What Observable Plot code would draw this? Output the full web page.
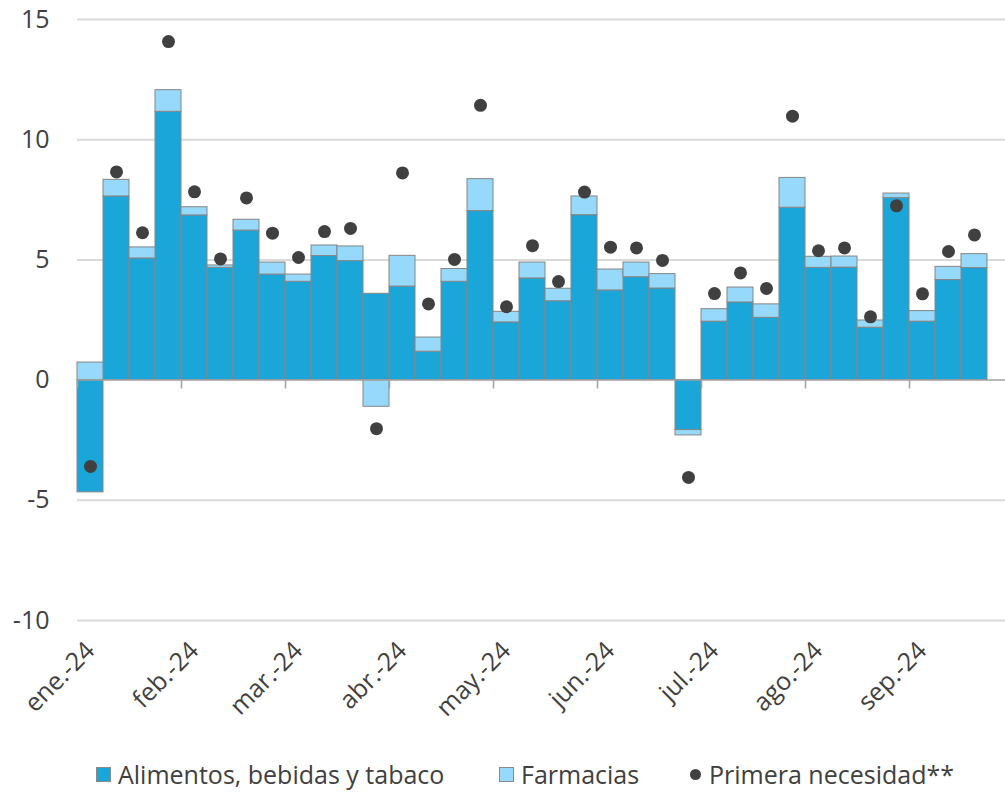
<!DOCTYPE html>
<html><head><meta charset="utf-8">
<script src="https://cdn.jsdelivr.net/npm/d3@7"></script>
<script src="https://cdn.jsdelivr.net/npm/@observablehq/plot@0.6"></script>
<style>
body{margin:0;background:#fff;font-family:"Open Sans",sans-serif;}
#wrap{position:relative;width:1005px;height:793px;}
#legend{position:absolute;left:0;top:755px;width:1005px;height:38px;font-size:25px;color:#404040;}
.item{position:absolute;top:0;height:38px;display:flex;align-items:center;white-space:nowrap;}
.sw{display:inline-block;width:13px;height:13px;border:1px solid #8a8a8a;margin-right:7px;}
.dot{display:inline-block;width:11px;height:11px;border-radius:50%;background:#404040;margin-right:8px;}
</style></head><body><div id="wrap"><div id="chart"></div><div id="legend"></div></div>
<script>
const monthLabels = ["ene.-24","feb.-24","mar.-24","abr.-24","may.-24","jun.-24","jul.-24","ago.-24","sep.-24"];
const seriesNames = ["Alimentos, bebidas y tabaco","Farmacias","Primera necesidad**"];
const alimentos = [-4.67,7.64,5.06,11.16,6.85,4.67,6.22,4.39,4.09,5.16,4.95,3.59,3.89,1.18,4.09,7.03,2.40,4.23,3.28,6.86,3.73,4.28,3.81,-2.08,2.43,3.23,2.59,7.17,4.67,4.68,2.18,7.57,2.43,4.16,4.66];
const farmacias = [0.73,0.69,0.46,0.90,0.34,0.10,0.45,0.50,0.30,0.44,0.61,-1.11,1.28,0.59,0.53,1.33,0.44,0.66,0.52,0.78,0.87,0.61,0.60,-0.22,0.52,0.62,0.56,1.24,0.46,0.46,0.30,0.19,0.44,0.55,0.58];
const primera = [-3.59,8.66,6.13,14.08,7.83,5.04,7.58,6.11,5.10,6.18,6.31,-2.02,8.62,3.17,5.02,11.43,3.05,5.59,4.10,7.82,5.53,5.50,4.98,-4.05,3.60,4.46,3.81,10.98,5.38,5.50,2.63,7.25,3.59,5.35,6.04];
const yTicks = [-10,-5,0,5,10,15];

const colors = ["#1BA6D9","#97D9FA","#404040"];
const weeks = d3.range(alimentos.length);
const bars = [
  ...weeks.map(i => ({week: i, value: alimentos[i], series: seriesNames[0]})),
  ...weeks.map(i => ({week: i, value: farmacias[i], series: seriesNames[1]}))
];
const dots = weeks.map(i => ({week: i + 0.5, value: primera[i]}));
const labelPos = monthLabels.map((m, k) => k * 4 + 0.5);
const tickPos = monthLabels.map((m, k) => k * 4);

const chart = Plot.plot({
  width: 1005,
  height: 755,
  marginLeft: 77,
  marginRight: 0,
  marginTop: 19,
  marginBottom: 135,
  style: {fontFamily: "'Open Sans', sans-serif", fontSize: "25px", color: "#404040", background: "#fff"},
  x: {type: "linear", domain: [0, 35], range: [77, 987]},
  y: {domain: [-10, 15]},
  color: {domain: seriesNames.slice(0, 2), range: colors.slice(0, 2)},
  marks: [
    Plot.ruleY(yTicks.filter(t => t !== 0), {stroke: "#d9d9d9", strokeWidth: 2}),
    Plot.rectY(bars, Plot.stackY({x1: "week", x2: d => d.week + 1, y: "value", fill: "series", stroke: "#858585", strokeWidth: 1})),
    Plot.ruleY([0], {stroke: "#a0a0a0", strokeWidth: 1.5}),
    Plot.ruleX(tickPos, {y1: 0, y2: -0.37, stroke: "#a0a0a0", strokeWidth: 1.5}),
    Plot.dot(dots, {x: "week", y: "value", r: 6.5, fill: colors[2], stroke: "none"}),
    Plot.axisY({ticks: yTicks, tickSize: 0, tickPadding: 28, label: null, fontSize: 25, tickFormat: d => String(d).replace("−","-")}),
    Plot.axisX({ticks: labelPos, tickSize: 0, tickPadding: 26, tickRotate: -45, label: null, fontSize: 25, tickFormat: d => monthLabels[Math.floor(d / 4)]})
  ]
});
document.getElementById("chart").appendChild(chart);

const legend = document.getElementById("legend");
const items = [
  {left: 96, html: `<span class="sw" style="background:${colors[0]}"></span>${seriesNames[0]}`},
  {left: 499, html: `<span class="sw" style="background:${colors[1]}"></span>${seriesNames[1]}`},
  {left: 690, html: `<span class="dot"></span>${seriesNames[2]}`}
];
items.forEach(it => {
  const d = document.createElement("div");
  d.className = "item";
  d.style.left = it.left + "px";
  d.innerHTML = it.html;
  legend.appendChild(d);
});
</script></body></html>
